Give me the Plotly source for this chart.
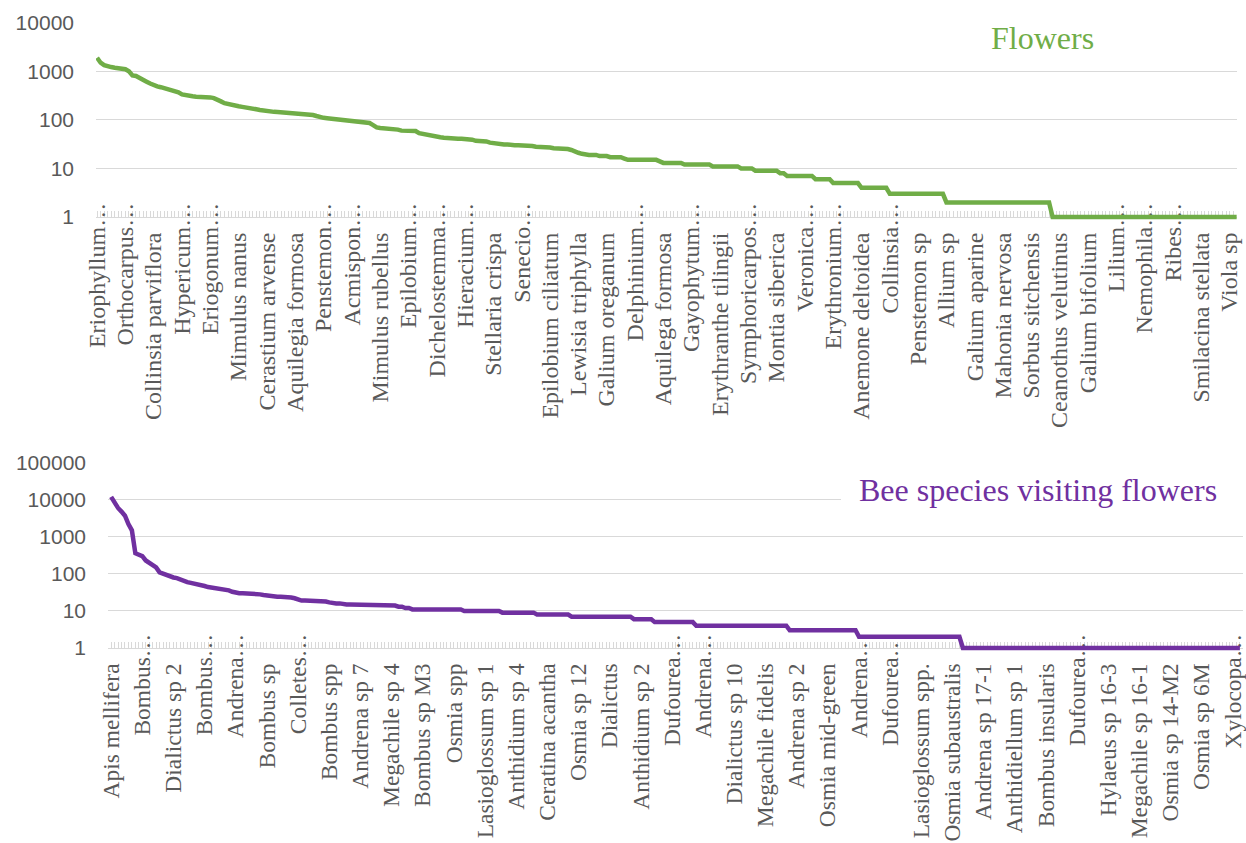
import plotly.graph_objects as go

W, H = 1246, 843

GREEN = "#70AD47"
PURPLE = "#7030A0"
GRID = "#D9D9D9"
TEXT = "#595959"
ELLIPSIS = "…"

# ---- Flowers: visit counts per plant taxon (ranked) ----
flower_labels = [
    "Eriophyllum…", "Orthocarpus…", "Collinsia parviflora", "Hypericum…", "Eriogonum…",
    "Mimulus nanus", "Cerastium arvense", "Aquilegia formosa", "Penstemon…", "Acmispon…",
    "Mimulus rubellus", "Epilobium…", "Dichelostemma…", "Hieracium…", "Stellaria crispa",
    "Senecio…", "Epilobium ciliatum", "Lewisia triphylla", "Galium oreganum", "Delphinium…",
    "Aquilega formosa", "Gayophytum…", "Erythranthe tilingii", "Symphoricarpos…", "Montia siberica",
    "Veronica…", "Erythronium…", "Anemone deltoidea", "Collinsia…", "Penstemon sp",
    "Allium sp", "Galium aparine", "Mahonia nervosa", "Sorbus sitchensis", "Ceanothus velutinus",
    "Galium bifolium", "Lilium…", "Nemophila…", "Ribes…", "Smilacina stellata", "Viola sp",
]
flower_label_step = 8

flower_counts = [
    1900, 1500, 1340, 1260, 1220, 1180, 1150, 1120, 1100, 1000,
    820, 800, 720, 660, 610, 560, 510, 490, 470, 450,
    430, 415, 400, 370, 335, 320, 310, 305, 300, 300,
    295, 292, 290, 280, 265, 240, 220, 210, 200, 195,
    190, 185, 182, 178, 170, 165, 160, 155, 150, 147,
    146, 145, 143, 142, 141, 140, 138, 135, 132, 130,
    128, 126, 120, 113, 110, 108, 106, 103, 101, 100,
    99, 97, 96, 94, 92, 90, 88, 86, 78, 70,
    68, 67, 67, 66, 66, 63, 60, 59, 59, 59,
    59, 53, 51, 49, 47, 46, 45, 44, 43, 42,
    42, 42, 41, 41, 41, 41, 39, 37, 37, 36,
    36, 34, 33, 32, 31, 31, 31, 30, 30, 30,
    30, 30, 29, 29, 28, 28, 27, 27, 27, 26,
    26, 26, 25, 25, 24, 22, 21, 20, 19, 19,
    19, 19, 18, 18, 18, 17, 17, 17, 17, 16,
    15, 15, 15, 15, 15, 15, 15, 15, 15, 14,
    13, 13, 13, 13, 13, 13, 12, 12, 12, 12,
    12, 12, 12, 12, 11, 11, 11, 11, 11, 11,
    11, 11, 10, 10, 10, 10, 9, 9, 9, 9,
    9, 9, 9, 8, 8, 7, 7, 7, 7, 7,
    7, 7, 7, 6, 6, 6, 6, 6, 5, 5,
    5, 5, 5, 5, 5, 5, 4, 4, 4, 4,
    4, 4, 4, 4, 3, 3, 3, 3, 3, 3,
    3, 3, 3, 3, 3, 3, 3, 3, 3, 3,
    2, 2, 2, 2, 2, 2, 2, 2, 2, 2,
    2, 2, 2, 2, 2, 2, 2, 2, 2, 2,
    2, 2, 2, 2, 2, 2, 2, 2, 2, 2,
    1, 1, 1, 1, 1, 1, 1, 1, 1, 1,
    1, 1, 1, 1, 1, 1, 1, 1, 1, 1,
    1, 1, 1, 1, 1, 1, 1, 1, 1, 1,
    1, 1, 1, 1, 1, 1, 1, 1, 1, 1,
    1, 1, 1, 1, 1, 1, 1, 1, 1, 1,
    1, 1, 1,
]

# ---- Bees: visit counts per bee taxon (ranked) ----
bee_labels = [
    "Apis mellifera", "Bombus…", "Dialictus sp 2", "Bombus…", "Andrena…",
    "Bombus sp", "Colletes…", "Bombus spp", "Andrena sp 7", "Megachile sp 4",
    "Bombus sp M3", "Osmia spp", "Lasioglossum sp 1", "Anthidium sp 4", "Ceratina acantha",
    "Osmia sp 12", "Dialictus", "Anthidium sp 2", "Dufourea…", "Andrena…",
    "Dialictus sp 10", "Megachile fidelis", "Andrena sp 2", "Osmia mid-green", "Andrena…",
    "Dufourea…", "Lasioglossum spp.", "Osmia subaustralis", "Andrena sp 17-1", "Anthidiellum sp 1",
    "Bombus insularis", "Dufourea…", "Hylaeus sp 16-3", "Megachile sp 16-1", "Osmia sp 14-M2",
    "Osmia sp 6M", "Xylocopa…",
]
bee_label_step = 9

bee_counts = [
    12000, 8000, 6000, 4800, 3700, 2200, 1500, 360, 340, 300,
    230, 200, 175, 150, 110, 100, 90, 85, 80, 77,
    70, 63, 60, 57, 55, 54, 50, 47, 44, 43,
    41, 39, 38, 37, 36, 33, 31, 30, 30, 30,
    29, 29, 28, 28, 27, 26, 25, 24, 24, 24,
    24, 24, 23, 22, 20, 19, 19, 19, 19, 19,
    19, 19, 18, 17, 16, 16, 16, 15, 15, 15,
    15, 15, 14, 14, 14, 14, 14, 14, 14, 14,
    14, 14, 14, 13, 13, 12, 12, 11, 11, 11,
    11, 11, 11, 11, 11, 11, 11, 11, 11, 11,
    11, 11, 10, 10, 10, 10, 10, 10, 10, 10,
    10, 10, 10, 9, 9, 9, 9, 9, 9, 9,
    9, 9, 9, 8, 8, 8, 8, 8, 8, 8,
    8, 8, 8, 7, 7, 7, 7, 7, 7, 7,
    7, 7, 7, 7, 7, 7, 7, 7, 7, 7,
    7, 6, 6, 6, 6, 6, 6, 5, 5, 5,
    5, 5, 5, 5, 5, 5, 5, 5, 5, 4,
    4, 4, 4, 4, 4, 4, 4, 4, 4, 4,
    4, 4, 4, 4, 4, 4, 4, 4, 4, 4,
    4, 4, 4, 4, 4, 4, 3, 3, 3, 3,
    3, 3, 3, 3, 3, 3, 3, 3, 3, 3,
    3, 3, 3, 3, 3, 3, 2, 2, 2, 2,
    2, 2, 2, 2, 2, 2, 2, 2, 2, 2,
    2, 2, 2, 2, 2, 2, 2, 2, 2, 2,
    2, 2, 2, 2, 2, 2, 1, 1, 1, 1,
    1, 1, 1, 1, 1, 1, 1, 1, 1, 1,
    1, 1, 1, 1, 1, 1, 1, 1, 1, 1,
    1, 1, 1, 1, 1, 1, 1, 1, 1, 1,
    1, 1, 1, 1, 1, 1, 1, 1, 1, 1,
    1, 1, 1, 1, 1, 1, 1, 1, 1, 1,
    1, 1, 1, 1, 1, 1, 1, 1, 1, 1,
    1, 1, 1, 1, 1, 1, 1, 1, 1, 1,
    1, 1, 1, 1, 1, 1, 1,
]

flower_ticks = [10 ** k for k in range(5)]
bee_ticks = [10 ** k for k in range(6)]

# plot-area geometry in pixels (left, right, top of log range, level of value 1)
TOP_BOX = dict(left=96, right=1237, top=22.7, base=217, decades=4)
BOT_BOX = dict(left=108, right=1243, top=462.7, base=648, decades=5)
LINE_PAD = 8  # plot area reaches a little below 1 so the thick line is not clipped


def px_x(v):
    return v / W


def px_y(v):
    return 1 - v / H


def sparse_ticktext(n, labels, step, truncated):
    """Category text every `step` points; keep either the full or the cut-off names."""
    text = [""] * n
    for j, lab in enumerate(labels):
        if j * step < n and lab.endswith(ELLIPSIS) == truncated:
            text[j * step] = lab
    return text


def y_geometry(box):
    per_dec = (box["base"] - box["top"]) / box["decades"]
    return dict(
        domain=[px_y(box["base"] + LINE_PAD), px_y(box["top"])],
        range=[-LINE_PAD / per_dec, box["decades"]],
    )


nf, nb = len(flower_counts), len(bee_counts)

fig = go.Figure()
fig.add_trace(go.Scatter(
    x=list(range(nf)), y=flower_counts, mode="lines",
    line=dict(color=GREEN, width=4.5),
    xaxis="x", yaxis="y", hoverinfo="skip", showlegend=False,
))
fig.add_trace(go.Scatter(
    x=list(range(nb)), y=bee_counts, mode="lines",
    line=dict(color=PURPLE, width=4.5),
    xaxis="x2", yaxis="y2", hoverinfo="skip", showlegend=False,
))
# empty traces so the overlay category axes (cut-off names) get drawn
for xa, ya in (("x3", "y"), ("x4", "y2")):
    fig.add_trace(go.Scatter(x=[], y=[], mode="lines", xaxis=xa, yaxis=ya,
                             hoverinfo="skip", showlegend=False))

SERIF = "Liberation Serif"
num_font = dict(family="Liberation Sans", size=21, color=TEXT)


def cat_axis(box, n, labels, step, xrange, size, truncated, overlay=None):
    ax = dict(
        domain=[px_x(box["left"]), px_x(box["right"])],
        anchor="free", position=px_y(box["base"]),
        range=xrange, tickmode="array", tickvals=list(range(n)),
        ticktext=sparse_ticktext(n, labels, step, truncated),
        tickangle=-90, tickfont=dict(family=SERIF, size=size, color=TEXT),
        showgrid=False, zeroline=False, automargin=False, layer="below traces",
    )
    if overlay:
        ax.update(overlaying=overlay, showline=False, ticks="", ticklabelstandoff=-20)
    else:
        ax.update(showline=True, linecolor=GRID, linewidth=1, ticks="inside",
                  ticklen=6, tickcolor=GRID, tickwidth=1, ticklabelstandoff=5)
    return ax


common_y = dict(
    type="log", showgrid=True, gridcolor=GRID, gridwidth=1, zeroline=False,
    showline=False, ticks="", tickfont=num_font, tickmode="array",
    ticklabelstandoff=21, automargin=False, layer="below traces",
)

top_xrange = [-0.3, nf - 1 + 0.1]
bot_xrange = [-0.9, nb - 1 + 0.9]

fig.update_layout(
    width=W, height=H,
    margin=dict(l=0, r=0, t=0, b=0, pad=0),
    paper_bgcolor="white", plot_bgcolor="white",
    xaxis=cat_axis(TOP_BOX, nf, flower_labels, flower_label_step, top_xrange, 24, False),
    xaxis3=cat_axis(TOP_BOX, nf, flower_labels, flower_label_step, top_xrange, 24, True,
                    overlay="x"),
    yaxis=dict(
        common_y, anchor="x", **y_geometry(TOP_BOX),
        tickvals=flower_ticks, ticktext=[str(v) for v in flower_ticks],
    ),
    xaxis2=cat_axis(BOT_BOX, nb, bee_labels, bee_label_step, bot_xrange, 23.5, False),
    xaxis4=cat_axis(BOT_BOX, nb, bee_labels, bee_label_step, bot_xrange, 23.5, True,
                    overlay="x2"),
    yaxis2=dict(
        common_y, anchor="x2", **y_geometry(BOT_BOX),
        tickvals=bee_ticks, ticktext=[str(v) for v in bee_ticks],
    ),
    shapes=[
        dict(type="rect", xref="paper", yref="paper", layer="above",
             x0=px_x(971), x1=1, y0=px_y(62), y1=px_y(8),
             fillcolor="white", line=dict(width=0)),
        dict(type="rect", xref="paper", yref="paper", layer="above",
             x0=px_x(841), x1=1, y0=px_y(522), y1=px_y(448),
             fillcolor="white", line=dict(width=0)),
    ],
    annotations=[
        dict(text="Flowers", xref="paper", yref="paper",
             x=px_x(1042), y=px_y(38), xanchor="center", yanchor="middle",
             showarrow=False, font=dict(family=SERIF, size=32, color=GREEN)),
        dict(text="Bee species visiting flowers", xref="paper", yref="paper",
             x=px_x(1038), y=px_y(490), xanchor="center", yanchor="middle",
             showarrow=False, font=dict(family=SERIF, size=32, color=PURPLE)),
    ],
)

fig.write_html("out.html")
